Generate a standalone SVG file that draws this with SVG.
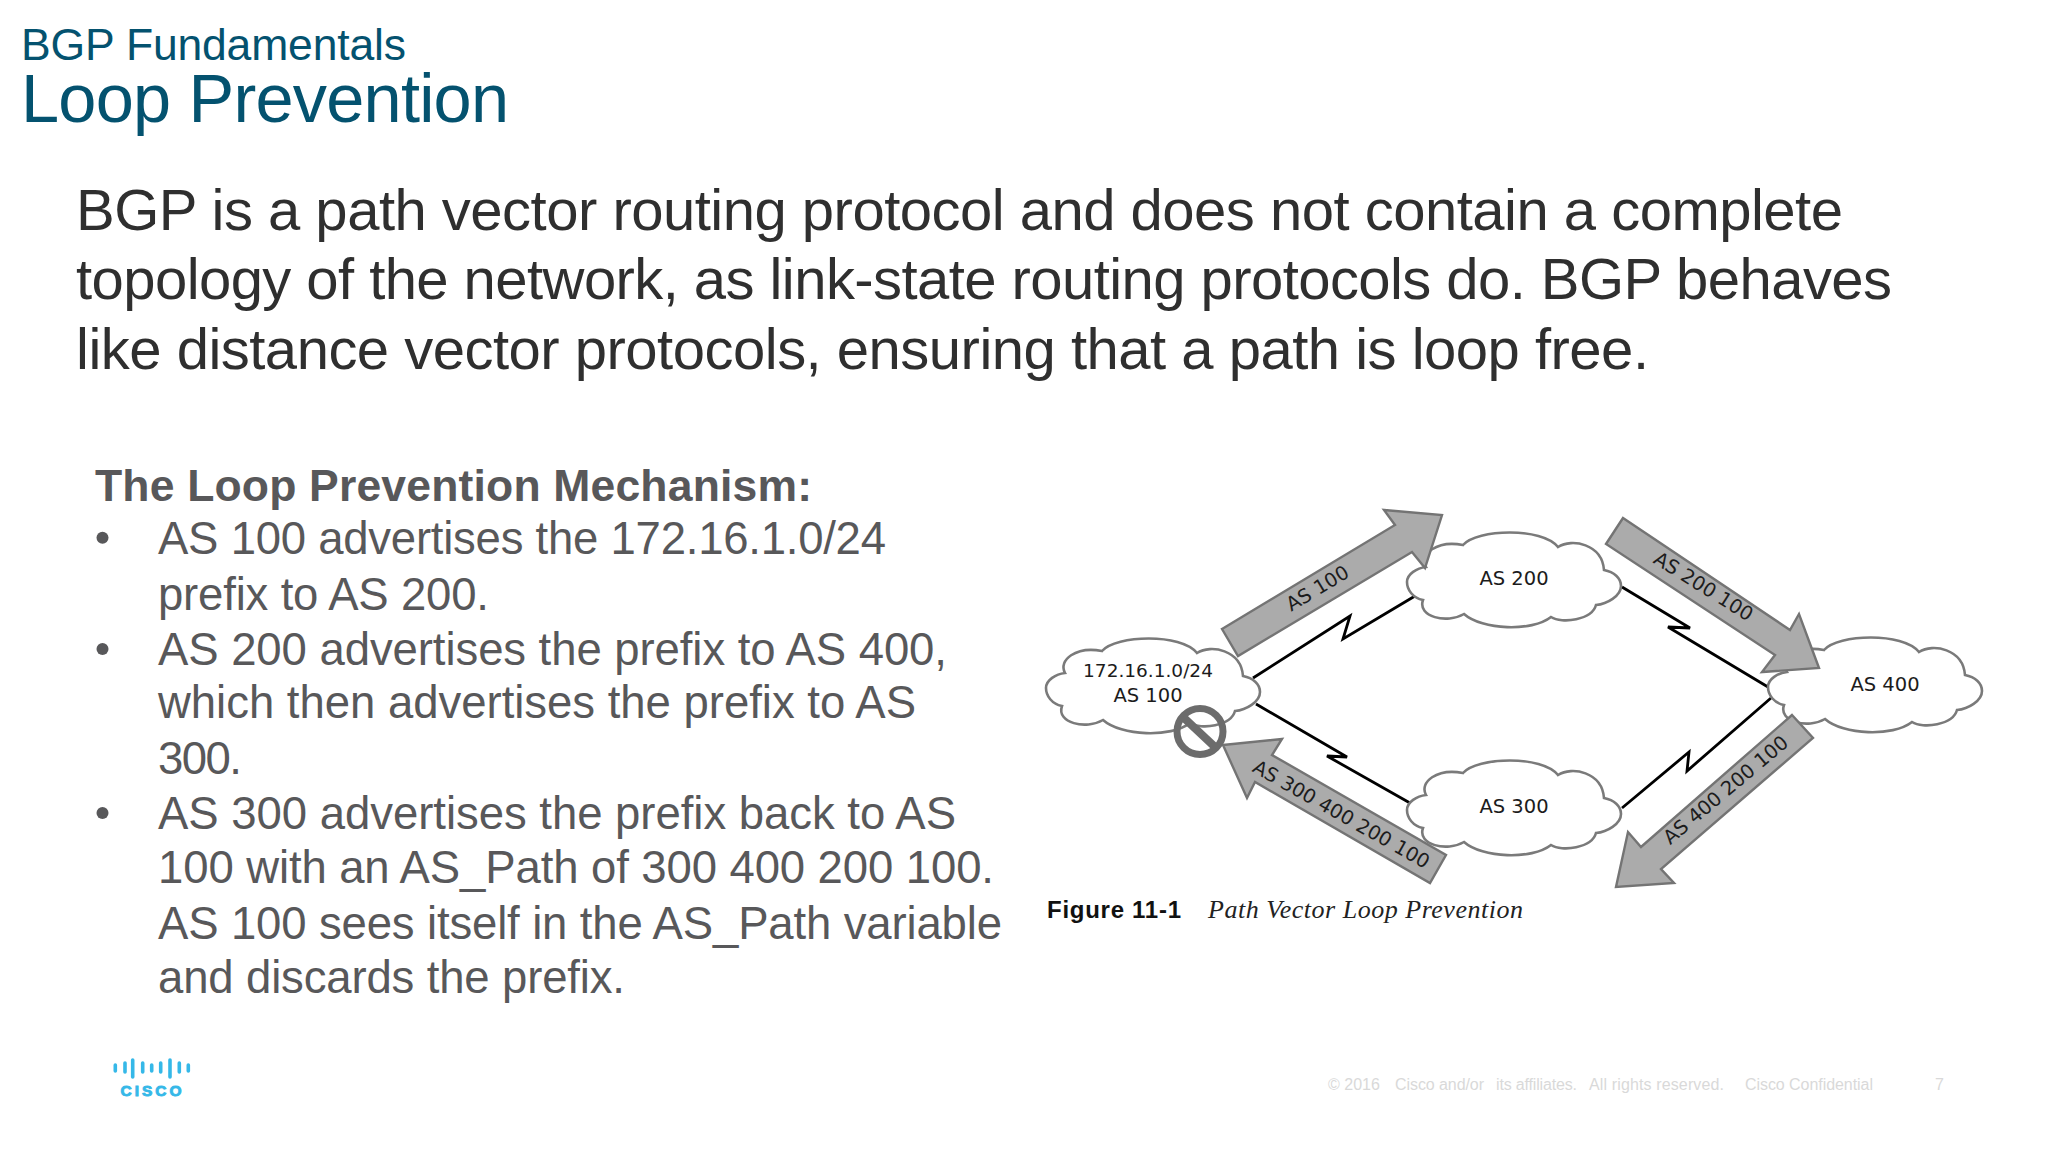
<svg xmlns="http://www.w3.org/2000/svg" xmlns:xlink="http://www.w3.org/1999/xlink" width="2048" height="1153" viewBox="0 0 2048 1153">
<style>
text{font-family:"Liberation Sans",Arial,sans-serif}
.ttl{fill:#04526f}
.para{font-size:58px;fill:#2f2f2f}
.list{font-size:45.500px;fill:#58585a}
.blt{fill:#58585a}
.foot{font-size:16px;fill:#d9d9d9}
.cloud{fill:#fff;stroke:#7a7a7a;stroke-width:2.6}
.arrow{fill:#ababab;stroke:#747474;stroke-width:2.4;stroke-linejoin:miter}
.link{fill:none;stroke:#000;stroke-width:2.8;stroke-linejoin:miter}
.lbl{font-family:"DejaVu Sans",Verdana,sans-serif;font-size:19.500px;fill:#1c1c1c;text-anchor:middle}
.bar{stroke:#35b8e8;stroke-width:3.6;stroke-linecap:round}
</style>
<defs>
<path id="cl" d="M0,50 C0,42 10,36 19,35 C12,22 30,8 56,13 C70,-3 135,-5 151,15 C165,6 195,12 197,38 C207,40 214,46 214,54 C214,64 200,72 189,73 C185,88 155,92 144,85 C125,100 75,98 57,82 C40,92 10,85 16,68 C6,66 0,58 0,50Z"/>
</defs>
<rect width="2048" height="1153" fill="#fff"/>
<g id="title">
<text class="ttl" x="21" y="60" font-size="44.500" textLength="385">BGP Fundamentals</text>
<text class="ttl" x="21" y="122" font-size="68.500" textLength="488">Loop Prevention</text>
</g>
<g id="intro">
<text class="para" x="76" y="230" textLength="1767">BGP is a path vector routing protocol and does not contain a complete</text>
<text class="para" x="76" y="298.500" textLength="1816">topology of the network, as link-state routing protocols do. BGP behaves</text>
<text class="para" x="76" y="368.500" textLength="1573">like distance vector protocols, ensuring that a path is loop free.</text>
</g>
<g id="mechanism">
<text x="95" y="501" font-size="44.500" font-weight="700" fill="#58585a" textLength="717">The Loop Prevention Mechanism:</text>
<circle class="blt" cx="102.500" cy="537.700" r="6"/>
<circle class="blt" cx="102.500" cy="649" r="6"/>
<circle class="blt" cx="102.500" cy="813" r="6"/>
<text class="list" x="158" y="554" textLength="728">AS 100 advertises the 172.16.1.0/24</text>
<text class="list" x="158" y="610" textLength="331">prefix to AS 200.</text>
<text class="list" x="158" y="665" textLength="789">AS 200 advertises the prefix to AS 400,</text>
<text class="list" x="158" y="718" textLength="758">which then advertises the prefix to AS</text>
<text class="list" x="158" y="774" textLength="84">300.</text>
<text class="list" x="158" y="829" textLength="798">AS 300 advertises the prefix back to AS</text>
<text class="list" x="158" y="883" textLength="836">100 with an AS_Path of 300 400 200 100.</text>
<text class="list" x="158" y="939" textLength="844">AS 100 sees itself in the AS_Path variable</text>
<text class="list" x="158" y="993" textLength="467">and discards the prefix.</text>
</g>
<g id="connectors">
<polyline class="link" points="1253,678 1350,616 1343,639 1415,596"/>
<polyline class="link" points="1256,704 1347,757 1327,756 1410,803"/>
<polyline class="link" points="1622,587 1690,628 1668,627 1768,687"/>
<polyline class="link" points="1771,698 1687,771 1689,752 1622,808"/>
</g>
<g id="as100"><use xlink:href="#cl" href="#cl" class="cloud" x="1046" y="638"/>
<text class="lbl" x="1148" y="677" style="font-size:18.500px">172.16.1.0/24</text><text class="lbl" x="1148" y="702">AS 100</text></g>
<g id="as200"><use xlink:href="#cl" href="#cl" class="cloud" x="1407" y="532"/>
<text class="lbl" x="1514" y="585">AS 200</text></g>
<g id="as300"><use xlink:href="#cl" href="#cl" class="cloud" x="1407" y="760"/>
<text class="lbl" x="1514" y="813">AS 300</text></g>
<g id="as400"><use xlink:href="#cl" href="#cl" class="cloud" x="1768" y="637"/>
<text class="lbl" x="1885" y="691">AS 400</text></g>
<g id="arrow-as100"><polygon class="arrow" points="1222,629 1395,525 1384,510 1442,515 1425,568 1412,552 1238,656"/>
<text class="lbl" transform="translate(1321 594) rotate(-31)">AS 100</text></g>
<g id="arrow-as300"><polygon class="arrow" points="1223,745 1282,739 1272,755 1446,855 1430,883 1255,782 1247,798"/>
<text class="lbl" transform="translate(1338 820) rotate(29.500)">AS 300 400 200 100</text></g>
<g id="arrow-as200"><polygon class="arrow" points="1623,518 1790,630 1799,614 1819,668 1762,672 1775,655 1606,544"/>
<text class="lbl" transform="translate(1700 592) rotate(32)">AS 200 100</text></g>
<g id="arrow-as400"><polygon class="arrow" points="1792,715 1813,738 1661,869 1674,883 1616,887 1628,832 1641,847"/>
<text class="lbl" transform="translate(1730 795) rotate(-40)">AS 400 200 100</text></g>
<g id="prohibit" fill="none" stroke="#6c6c6c">
<circle cx="1200" cy="731.500" r="23" stroke-width="7"/>
<line x1="1183" y1="717" x2="1216" y2="748" stroke-width="8"/>
</g>
<g id="caption">
<text x="1047" y="918" font-size="24" font-weight="700" fill="#111" textLength="134">Figure 11-1</text>
<text x="1208" y="918" font-size="26" font-style="italic" fill="#222" style="font-family:'Liberation Serif',serif" textLength="315">Path Vector Loop Prevention</text>
</g>
<g id="logo">
<line class="bar" x1="115.300" y1="1065" x2="115.300" y2="1071"/>
<line class="bar" x1="125" y1="1063" x2="125" y2="1072"/>
<line class="bar" x1="132.700" y1="1060" x2="132.700" y2="1077"/>
<line class="bar" x1="142.700" y1="1063" x2="142.700" y2="1072"/>
<line class="bar" x1="151.700" y1="1065" x2="151.700" y2="1071"/>
<line class="bar" x1="160.700" y1="1063" x2="160.700" y2="1072"/>
<line class="bar" x1="170" y1="1060" x2="170" y2="1077"/>
<line class="bar" x1="179.300" y1="1063" x2="179.300" y2="1072"/>
<line class="bar" x1="188.300" y1="1065" x2="188.300" y2="1071"/>
<text x="120.500" y="1095.500" font-size="15.500" font-weight="700" fill="#35b8e8" stroke="#35b8e8" stroke-width="0.900" textLength="61">CISCO</text>
</g>
<g id="footer">
<text class="foot" x="1328" y="1090">© 2016</text>
<text class="foot" x="1395" y="1090" textLength="89">Cisco and/or</text>
<text class="foot" x="1496" y="1090" textLength="81">its affiliates.</text>
<text class="foot" x="1589" y="1090" textLength="135">All rights reserved.</text>
<text class="foot" x="1745" y="1090" textLength="128">Cisco Confidential</text>
<text class="foot" x="1935" y="1090">7</text>
</g>
</svg>
